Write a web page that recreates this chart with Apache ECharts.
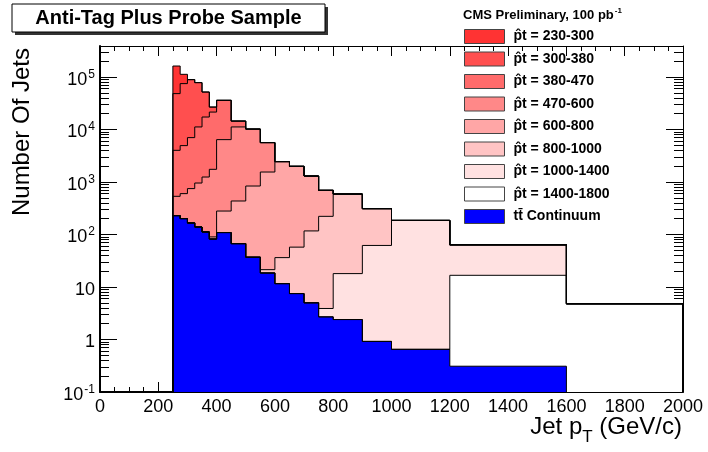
<!DOCTYPE html>
<html>
<head>
<meta charset="utf-8">
<script src="https://cdn.jsdelivr.net/npm/echarts@6.0.0/dist/echarts.min.js"></script>
<style>
  html, body { margin: 0; padding: 0; background: #fff; }
  #chart { width: 708px; height: 452px; }
</style>
</head>
<body>
<div id="chart"></div>
<script>
// histogram bin edges (GeV/c), 19 bins
const binEdges = [250, 275, 300, 325, 350, 375, 400, 450, 500, 550, 600, 650, 700, 750, 800, 900, 1000, 1200, 1600, 2000];

// per-sample content of each bin
const ttContinuum = [229, 201, 166, 139, 112, 82, 109, 67, 37, 18.5, 11.6, 7.5, 5.0, 2.7, 2.4, 0.92, 0.65, 0.31, 0];
const pt1400_1800 = [0, 0, 0, 0, 0, 0, 0, 0, 0, 0, 0, 0, 0, 0, 0, 0, 0, 16.4, 4.8];
const pt1000_1400 = [0, 0, 0, 0, 0, 0, 0, 0, 0, 0, 0, 0, 0, 1.2, 15.6, 61, 185, 47, 0];
const pt800_1000 = [0, 0, 0, 0, 0, 0, 0, 0, 0, 2.9, 24.7, 50, 112, 218, 573, 249, 0, 0, 0];
const pt600_800 = [0, 0, 0, 0, 0, 8, 171, 368, 802, 1529, 2411, 1933, 1184, 473, 0, 0, 0, 0, 0];
const pt470_600 = [305, 400, 583, 818, 1133, 1655, 6140, 10765, 9361, 4080, 0, 0, 0, 0, 0, 0, 0, 0, 0];
const pt380_470 = [3481, 4334, 6261, 10243, 16055, 19755, 29580, 3300, 0, 0, 0, 0, 0, 0, 0, 0, 0, 0, 0];
const pt300_380 = [44285, 69965, 82190, 67000, 34500, 5300, 0, 0, 0, 0, 0, 0, 0, 0, 0, 0, 0, 0, 0];
const pt230_300 = [113700, 37700, 0, 0, 0, 0, 0, 0, 0, 0, 0, 0, 0, 0, 0, 0, 0, 0, 0];

// stack order, bottom first
const layers = [ttContinuum, pt1400_1800, pt1000_1400, pt800_1000, pt600_800, pt470_600, pt380_470, pt300_380, pt230_300];
const layerNames = ['tt\u0304 Continuum', 'p\u0302t = 1400-1800', 'p\u0302t = 1000-1400', 'p\u0302t = 800-1000',
  'p\u0302t = 600-800', 'p\u0302t = 470-600', 'p\u0302t = 380-470', 'p\u0302t = 300-380', 'p\u0302t = 230-300'];
const layerColors = ['#0000ff', '#ffffff', '#ffe1e1', '#ffc4c4', '#ffa6a6', '#ff8888', '#ff6b6b', '#ff4f4f', '#ff3333'];

// axis ticks
const yDecades = [0.1, 1, 10, 100, 1000, 10000, 100000];

const Y_MIN = 0.1, Y_MAX = 3.9e5;
const FONT = '"Liberation Sans", Arial, Helvetica, sans-serif';

const yMinor = [];
yDecades.forEach(d => {
  for (let m = 2; m <= 9; m++) if (m * d < Y_MAX) yMinor.push(m * d);
});

// cumulative sums, like THStack draws them
const cumulative = [];
let running = layers[0].map(() => 0);
layers.forEach(layer => {
  running = running.map((v, i) => v + layer[i]);
  cumulative.push(running.slice());
});

function histPoints(cum) {
  let last = cum.length - 1;
  while (last >= 0 && cum[last] <= 0) last--;
  const pts = [[binEdges[0], Y_MIN]];
  for (let i = 0; i <= last; i++) pts.push([binEdges[i], cum[i]]);
  pts.push([binEdges[last + 1], cum[last]]);
  pts.push([binEdges[last + 1], Y_MIN]);
  return pts;
}

const series = [];
for (let k = layers.length - 1; k >= 0; k--) {
  series.push({
    name: layerNames[k],
    type: 'line',
    step: 'end',
    data: histPoints(cumulative[k]),
    symbol: 'none',
    showSymbol: false,
    color: layerColors[k],
    itemStyle: { color: layerColors[k] },
    lineStyle: { color: '#000', width: 1 },
    areaStyle: { color: layerColors[k], opacity: 1 },
    emphasis: { disabled: true },
    animation: false
  });
}

function decadeLabel(v) {
  const e = Math.round(Math.log10(v));
  if (e === 0) return '{b|1}';
  if (e === 1) return '{b|10}';
  return '{b|10}{s|' + e + '}';
}

const tickStyle = { color: '#000', width: 1 };

function logAxis(position, major, showLabel, lineWidth) {
  return {
    type: 'log',
    logBase: 10,
    position: position,
    min: Y_MIN,
    max: Y_MAX,
    axisLine: { show: major, onZero: false, lineStyle: { color: '#000', width: lineWidth } },
    axisTick: {
      show: true, inside: true, length: major ? 17 : 9,
      customValues: major ? yDecades : yMinor,
      lineStyle: tickStyle
    },
    axisLabel: {
      show: showLabel,
      customValues: yDecades,
      margin: 5,
      formatter: decadeLabel,
      color: '#000',
      rich: {
        b: { fontSize: 18, fontFamily: FONT, color: '#000', lineHeight: 18, padding: [6, 0, 0, 0] },
        s: { fontSize: 12, fontFamily: FONT, color: '#000', lineHeight: 12, padding: [0, 0, 5, 1] }
      }
    },
    splitLine: { show: false }
  };
}

function linAxis(position, showLabel, lineWidth) {
  return {
    type: 'value',
    position: position,
    min: 0,
    max: 2000,
    interval: 200,
    axisLine: { show: true, onZero: false, lineStyle: { color: '#000', width: lineWidth } },
    axisTick: { show: true, inside: true, length: 10, lineStyle: tickStyle },
    minorTick: { show: true, splitNumber: 4, length: 5, lineStyle: tickStyle },
    axisLabel: { show: showLabel, fontSize: 18, fontFamily: FONT, color: '#000', margin: 6, formatter: v => String(v) },
    splitLine: { show: false },
    minorSplitLine: { show: false }
  };
}

const chart = echarts.init(document.getElementById('chart'), null, { renderer: 'canvas' });

chart.setOption({
  animation: false,
  backgroundColor: '#fff',
  grid: { left: 100, right: 25, top: 46, bottom: 60 },
  xAxis: [linAxis('bottom', true, 2), linAxis('top', false, 1)],
  yAxis: [
    logAxis('left', true, true, 2),
    logAxis('left', false, false, 1),
    logAxis('right', true, false, 1),
    logAxis('right', false, false, 1)
  ],
  legend: {
    orient: 'vertical',
    left: 464,
    top: 29,
    padding: 0,
    itemWidth: 40,
    itemHeight: 14,
    itemGap: 7.5,
    selectedMode: false,
    itemStyle: { borderColor: '#444', borderWidth: 1 },
    textStyle: { fontSize: 14, fontWeight: 'bold', fontFamily: FONT, color: '#000', lineHeight: 14, padding: [0, 0, 0, 4] },
    data: layerNames.slice().reverse().map(n => ({ name: n, icon: 'rect' }))
  },
  graphic: [
    { type: 'rect', shape: { x: 15, y: 7, width: 313, height: 28 }, style: { fill: '#333' } },
    { type: 'rect', shape: { x: 12, y: 4, width: 313, height: 28 }, style: { fill: '#fff', stroke: '#000', lineWidth: 1 } },
    {
      type: 'text', x: 168.5, y: 18,
      style: { text: 'Anti-Tag Plus Probe Sample', fontSize: 20, fontWeight: 'bold', fontFamily: FONT, fill: '#000', textAlign: 'center', textVerticalAlign: 'middle' }
    },
    {
      type: 'text', x: 463, y: 15,
      style: {
        text: '{h|CMS Preliminary, 100 pb}{s|-1}',
        textAlign: 'left', textVerticalAlign: 'middle',
        rich: {
          h: { fontSize: 13, fontWeight: 'bold', fontFamily: FONT, fill: '#000', lineHeight: 13 },
          s: { fontSize: 8, fontWeight: 'bold', fontFamily: FONT, fill: '#000', lineHeight: 8, padding: [0, 0, 8, 1] }
        }
      }
    },
    {
      type: 'text', x: 22, y: 48, rotation: Math.PI / 2,
      style: { text: 'Number Of Jets', fontSize: 24, fontFamily: FONT, fill: '#000', textAlign: 'right', textVerticalAlign: 'middle' }
    },
    {
      type: 'text', x: 682, y: 415.5,
      style: {
        text: '{m|Jet p}{t|T}{m| (GeV/c)}', textAlign: 'right', textVerticalAlign: 'top',
        rich: {
          m: { fontSize: 24, fontFamily: FONT, fill: '#000', lineHeight: 24 },
          t: { fontSize: 17, fontFamily: FONT, fill: '#000', lineHeight: 17, padding: [20, 0, 0, 0] }
        }
      }
    }
  ],
  series: series
});
</script>
</body>
</html>
